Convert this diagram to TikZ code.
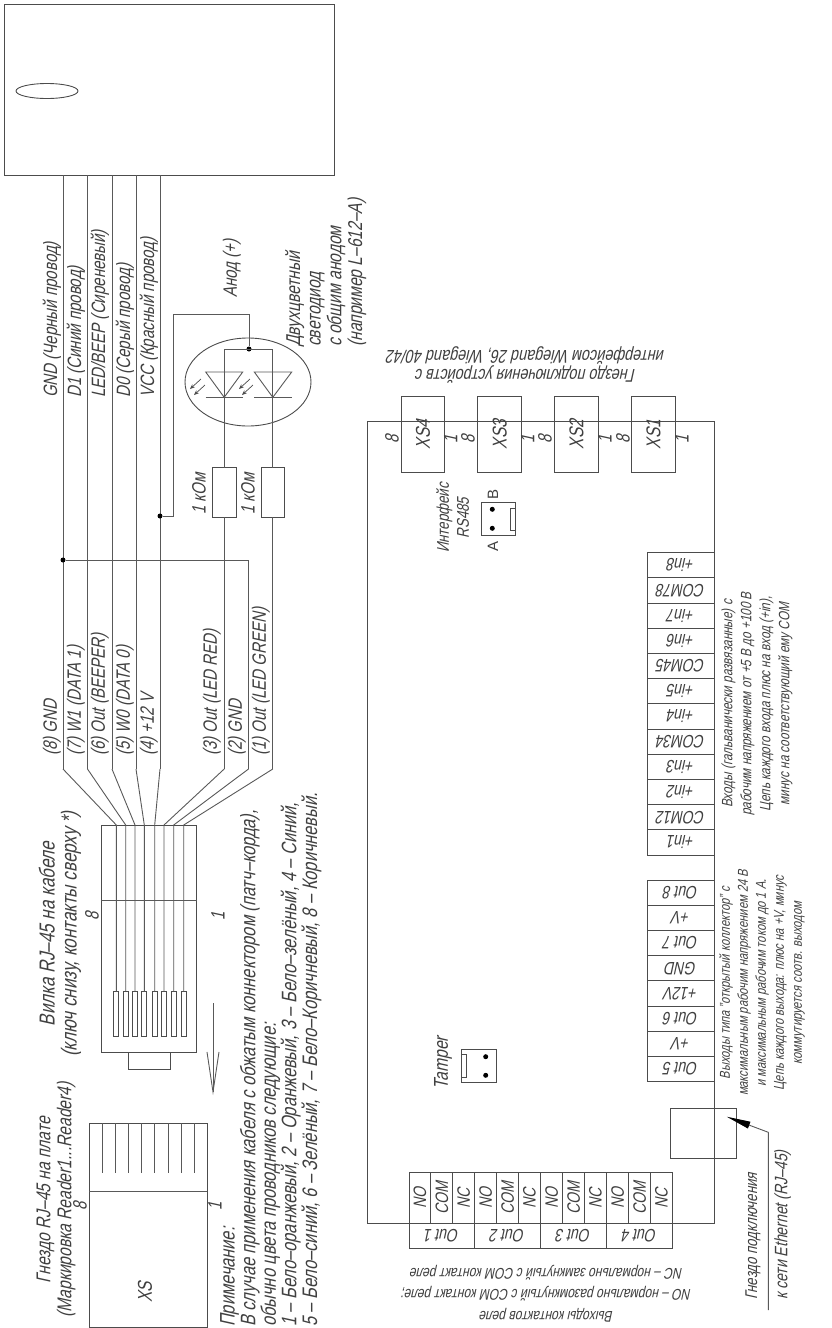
\documentclass[tikz,border=0pt]{standalone}
\usepackage{fontspec}
\setmainfont{Liberation Sans}[FakeStretch=0.78,FakeSlant=0.22]
\newfontfamily\plainsans{Liberation Sans}
\usetikzlibrary{arrows.meta, shapes.geometric, positioning}
\tikzset{
	wire/.style={draw=black!65, line width=0.9pt},
	partbox/.style={draw=black!70, line width=0.9pt, inner sep=0, outer sep=0, rectangle},
	lbl/.style={rotate=90, anchor=west, inner sep=0, text=black!75, font=\fontsize{19.3}{21}\selectfont},
	block/.style={rotate=90, anchor=north west, align=left, inner sep=0, text=black!75, font=\fontsize{20}{20.7}\selectfont},
	midblock/.style={rotate=90, align=center, inner sep=0, text=black!75, font=\fontsize{20}{21}\selectfont},
	smallblock/.style={rotate=90, align=center, inner sep=0, text=black!75, font=\fontsize{15}{19}\selectfont},
	flipblock/.style={rotate=180, align=center, inner sep=0, text=black!75, font=\fontsize{18.5}{19.5}\selectfont},
	cell/.style={partbox, rotate=180, text=black!75, minimum width=66.3pt, minimum height=25.2pt, font=\fontsize{18}{20}\selectfont},
	relaycell/.style={partbox, rotate=90, text=black!75, minimum width=50.6pt, minimum height=21.9pt, font=\fontsize{18}{20}\selectfont},
	relayout/.style={partbox, rotate=180, text=black!75, minimum width=65.8pt, minimum height=25pt, font=\fontsize{18}{20}\selectfont},
	xsbox/.style={partbox, rotate=90, text=black!75, minimum width=75.6pt, minimum height=43.6pt, font=\fontsize{20}{21}\selectfont},
	contact/.style={partbox, minimum width=5.2pt, minimum height=45pt},
	junction/.style={circle, fill=black, inner sep=0, minimum size=5pt},
	resistor/.style={partbox, minimum width=23.6pt, minimum height=49.6pt},
	ledray/.style={draw=black!70, line width=0.7pt, -{Stealth[length=5pt,width=4pt]}}
}
\begin{document}
\begin{tikzpicture}[x=1pt, y=-1pt]
	\useasboundingbox (0,0) rectangle (832,1328);
	\node[partbox, minimum width=330.5pt, minimum height=171pt] (panel) at (169.5,89.5) {};
	\node[partbox, ellipse, minimum width=62pt, minimum height=15pt] (slot) at (47,91) {};
	\node[partbox, minimum width=95.4pt, minimum height=227.3pt] (plug) at (149,938.6) {};
	\node[partbox, minimum width=42.4pt, minimum height=16.7pt] (plugtab) at (149.5,1060.7) {};
	\node[partbox, minimum width=118.3pt, minimum height=204pt] (socket) at (148.2,1225.3) {};
	\draw[wire] (plug.west |- 0,900.7) -- (plug.east |- 0,900.7);
	\draw[wire] (socket.west |- 0,1191.7) -- (socket.east |- 0,1191.7);
	\node[midblock] (socktag) at (145,1292) {XS};
	\foreach \pinid/\pinx/\wirex in {a/116.3/63, b/125.7/87.5, c/135/112, d/144.3/136, e/154.7/160, f/164/224.2, g/173.7/248.5, h/183.7/272.8} {
		\coordinate (top-\pinid) at (\wirex,175);
		\coordinate (bend-\pinid) at (\wirex,769);
		\coordinate (entry-\pinid) at (\pinx,825);
		\node[contact] (pin-\pinid) at (\pinx,1014.2) {};
		\draw[wire] (bend-\pinid) -- (entry-\pinid) -- (pin-\pinid.north);
	}
	\foreach \pinid in {a,b,c,d,e}
		\draw[wire] (top-\pinid) -- (bend-\pinid);
	\foreach \slotx [count=\i] in {102.3,115.3,128.7,141.7,154.7,168,181.7,194.7} {
		\coordinate (slot-\i-a) at (\slotx,1123.3);
		\coordinate (slot-\i-b) at (\slotx,1173);
		\draw[wire] (slot-\i-a) -- (slot-\i-b);
	}

	\node[lbl] (wgnd) at (52,398) {GND (Черный провод)};
	\node[lbl] (wd1) at (76,398) {D1 (Синий провод)};
	\node[lbl] (wled) at (100,398) {LED/BEEP (Сиреневый)};
	\node[lbl] (wd0) at (125,398) {D0 (Серый провод)};
	\node[lbl] (wvcc) at (149,398) {VCC (Красный провод)};
	\node[lbl] (p8) at (52,756) {(8) GND};
	\node[lbl] (p7) at (76,756) {(7) W1 (DATA 1)};
	\node[lbl] (p6) at (100,756) {(6) Out (BEEPER)};
	\node[lbl] (p5) at (125,756) {(5) W0 (DATA 0)};
	\node[lbl] (p4) at (149,756) {(4) +12 V};
	\node[lbl] (p3) at (212,756) {(3) Out (LED RED)};
	\node[lbl] (p2) at (237,756) {(2) GND};
	\node[lbl] (p1) at (261,756) {(1) Out (LED GREEN)};

	% LED
	\node[partbox, ellipse, minimum width=126pt, minimum height=88pt] (ledcase) at (248,382) {};
	\node[resistor] (resred) at (224.2,492.5) {};
	\node[resistor] (resgreen) at (272.8,492.5) {};
	\coordinate (busl) at (224.2,349);
	\coordinate (busr) at (272.8,349);
	\node[junction] (anode) at (249,349) {};
	\node[junction] (vccdot) at (160,516) {};
	\node[junction] (gnddot) at (63,560) {};
	\coordinate (anodea) at (173,516);
	\coordinate (anodeb) at (173,314);
	\coordinate (anodec) at (249,314);
	\coordinate (gnda) at (248.5,560);
	\coordinate (catl) at (224.2,397.3);
	\coordinate (catr) at (272.8,397.3);
	\draw[wire] (vccdot) -- (anodea) -- (anodeb) -- (anodec) -- (anode);
	\draw[wire] (busl) -- (busr);
	\draw[wire] (busl) -- (resred.north);
	\draw[wire] (busr) -- (resgreen.north);
	\draw[wire] (resred.south) -- (bend-f);
	\draw[wire] (resgreen.south) -- (bend-h);
	\draw[wire] (gnddot) -- (gnda) -- (bend-g);
	\draw[wire] (205.7,372) -- (242.7,372) -- (catl) -- cycle;
	\draw[wire] (254.3,372) -- (291.7,372) -- (catr) -- cycle;
	\draw[wire] (205.7,397.3) -- (242.7,397.3);
	\draw[wire] (254.3,397.3) -- (291.7,397.3);
	\draw[ledray] (201,379) -- (190,389);
	\draw[ledray] (205,385) -- (194,395);
	\draw[ledray] (250,379) -- (239,389);
	\draw[ledray] (253,385) -- (242,395);
	\node[lbl] (anodetxt) at (232,298) {Анод (+)};
	\node[block] (ledtxt) at (285,347) {Двухцветный\\светодиод\\с общим анодом\\(например L–612–A)};
	\node[lbl] (rtxta) at (199,515) {1 кОм};
	\node[lbl] (rtxtb) at (248,515) {1 кОм};

	% plug and socket
	\node[lbl] (plug8) at (92,921) {8};
	\node[lbl] (plug1) at (218,921) {1};
	\node[lbl] (sock8) at (80,1211) {8};
	\node[lbl] (sock1) at (215,1211) {1};
	\coordinate (mova) at (213,1003);
	\coordinate (movb) at (213,1095);
	\draw[wire, -{Straight Barb[length=40pt,width=12pt]}] (mova) -- (movb);
	\node[midblock, font=\fontsize{21.7}{22}\selectfont] (plugtxt) at (60,934) {Вилка RJ–45 на кабеле\\(ключ снизу, контакты сверху *)};
	\node[midblock] (socktxt) at (56,1200) {Гнездо RJ–45 на плате\\(Маркировка Reader1...Reader4)};
	\node[block, font=\fontsize{21}{20.6}\selectfont] (notetxt) at (220,1327) {Примечание:\\В случае применения кабеля с обжатым коннектором (патч–корда),\\обычно цвета проводников следующие:\\1 – Бело–оранжевый, 2 – Оранжевый, 3 – Бело–зелёный, 4 – Синий,\\5 – Бело–синий, 6 – Зелёный, 7 – Бело–Коричневый, 8 – Коричневый.};

	% board
	\node[partbox, minimum width=347pt, minimum height=802pt] (board) at (540.8,822.3) {};
	\foreach \xsname/\xsx/\eightx/\onex in {XS4/423/392/450.7, XS3/499.7/468/527.7, XS2/576.5/545/605, XS1/653.5/623/682} {
		\node[xsbox] (\xsname) at (\xsx,434.5) {\xsname};
		\node[lbl] (\xsname-8) at (\eightx,444) {8};
		\node[lbl] (\xsname-1) at (\onex,444) {1};
	}
	\node[flipblock] (xstxt) at (526,365) {Гнездо подключения устройств с\\интерфейсом Wiegand 26, Wiegand 40/42};
	\node[partbox, minimum width=34.7pt, minimum height=33.4pt] (rsport) at (498.3,519) {};
	\node[partbox, minimum width=5.7pt, minimum height=21.7pt] (rskey) at (512.9,519.2) {};
	\node[junction] (rsa) at (492.3,528.3) {};
	\node[junction] (rsb) at (492.3,509.3) {};
	\node[rotate=90, inner sep=0, text=black!75, font=\plainsans\fontsize{15}{18}\selectfont] (rsatxt) at (493,546) {A};
	\node[rotate=90, inner sep=0, text=black!75, font=\plainsans\fontsize{15}{18}\selectfont] (rsbtxt) at (493,494) {B};
	\node[smallblock, font=\fontsize{17}{20}\selectfont] (rstxt) at (452.7,518) {Интерфейс\\RS485};
	\node[partbox, minimum width=34.3pt, minimum height=33.4pt] (tamperport) at (478.8,1066) {};
	\node[partbox, minimum width=5pt, minimum height=23.4pt] (tamperkey) at (464.2,1066) {};
	\node[junction] (tampera) at (485.7,1056.7) {};
	\node[junction] (tamperb) at (485.7,1075.3) {};
	\node[midblock] (tampertxt) at (443,1063) {Tamper};

	\foreach \rowtxt [count=\i from 0] in {+in8,COM78,+in7,+in6,COM45,+in5,+in4,COM34,+in3,+in2,COM12,+in1}
		\node[cell] (in-\i) at (681,{565.3+25.2*\i}) {\rowtxt};
	\foreach \rowtxt [count=\i from 0] in {Out 8,+V,Out 7,GND,+12V,Out 6,+V,Out 5}
		\node[cell] (out-\i) at (681,{892.6+25.2*\i}) {\rowtxt};
	\node[smallblock] (intxt) at (757,704) {Входы (гальванически развязанные) с\\рабочим напряжением от +5 В до +100 В\\Цепь каждого входа плюс на вход (+in),\\минус на соответствующий ему COM};
	\node[smallblock, font=\fontsize{14.3}{18}\selectfont] (outtxt) at (762,983) {Выходы типа "открытый коллектор" с\\максимальным рабочим напряжением 24 В\\и максимальным рабочим током до 1 А.\\Цепь каждого выхода: плюс на +V, минус\\коммутируется соотв. выходом};

	% ethernet
	\node[partbox, minimum width=66.3pt, minimum height=50pt] (lanport) at (703.2,1133.3) {};
	\coordinate (lanfree) at (768.3,1310);
	\coordinate (lanbend) at (768.3,1132.3);
	\coordinate (lantip) at (726.7,1116.7);
	\draw[wire, -{Stealth[length=24pt,width=7pt,inset=0pt,black]}, line join=round] (lanfree) -- (lanbend) -- (lantip);
	\node[lbl, font=\fontsize{17}{20}\selectfont] (lantxta) at (753,1300) {Гнездо подключения};
	\node[lbl, font=\fontsize{18}{20}\selectfont] (lantxtb) at (782.7,1300) {к сети Ethernet (RJ–45)};

	% relays
	\foreach \grp/\grpx in {1/409, 2/474.7, 3/540.7, 4/606.7} {
		\node[relaycell] (no-\grp) at ({\grpx+10.95},1198) {NO};
		\node[relaycell] (com-\grp) at ({\grpx+32.85},1198) {COM};
		\node[relaycell] (nc-\grp) at ({\grpx+54.75},1198) {NC};
		\node[relayout] (relay-\grp) at ({\grpx+32.9},1235.8) {Out \grp};
	}
	\node[flipblock, font=\fontsize{15.5}{21.5}\selectfont] (relaytxt) at (546.7,1293.5) {Выходы контактов реле\\NO – нормально разомкнутый с COM контакт реле;\\NC – нормально замкнутый с COM контакт реле};
\end{tikzpicture}
\end{document}
